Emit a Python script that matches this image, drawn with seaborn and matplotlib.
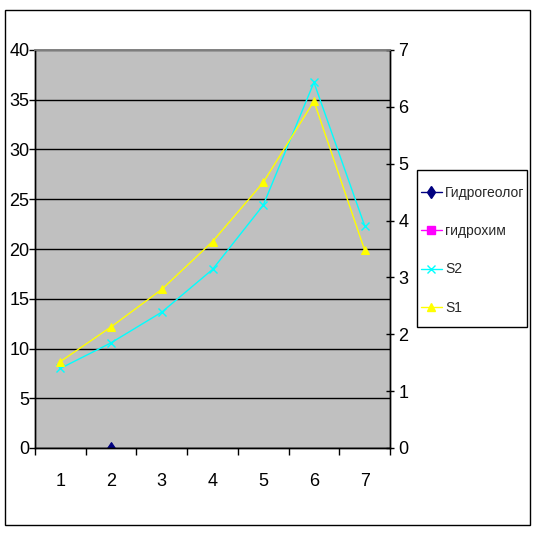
import numpy as np
import pandas as pd
import seaborn as sns
import matplotlib.pyplot as plt
from matplotlib.lines import Line2D
from matplotlib.patches import Rectangle

sns.set_theme(style="white")
plt.rcParams["font.family"] = ["Liberation Sans", "DejaVu Sans"]

categories = [1, 2, 3, 4, 5, 6, 7]
hydro = [np.nan, 0, np.nan, np.nan, np.nan, np.nan, np.nan]
s2 = [1.40, 1.85, 2.39, 3.14, 4.27, 6.43, 3.91]
s1 = [1.52, 2.13, 2.79, 3.63, 4.67, 6.10, 3.48]
labels = ["Гидрогеолог", "гидрохим", "S2", "S1"]

df = pd.DataFrame({"cat": categories, "hydro": hydro, "s2": s2, "s1": s1})

fig = plt.figure(figsize=(5.35, 5.34), dpi=100)
ax = fig.add_axes([35 / 535, 86 / 534, 355 / 535, 398 / 534])
ax.set_facecolor("#C0C0C0")

sns.lineplot(data=df, x="cat", y="hydro", ax=ax, color="#000080", marker="d",
             markersize=6, markeredgecolor="#000080", linewidth=1)
ax.set_ylim(0, 40)
ax.set_yticks(range(0, 41, 5))
ax.yaxis.grid(True, color="black", linewidth=1)
ax.set_axisbelow(True)

ax2 = ax.twinx()
sns.lineplot(data=df, x="cat", y="s2", ax=ax2, color="#00FFFF", marker="x",
             markersize=6, markeredgecolor="#00FFFF", markeredgewidth=1, linewidth=1)
sns.lineplot(data=df, x="cat", y="s1", ax=ax2, color="#FFFF00", marker="^",
             markersize=6, markeredgecolor="#FFFF00", linewidth=1)
ax2.set_ylim(0, 7)
ax2.set_yticks(range(0, 8))

ax.set_xlim(0.5, 7.5)
ax.set_xticks(categories)
ax.set_xticks(np.arange(0.5, 7.6, 1), minor=True)
ax.tick_params(axis="x", which="major", length=0, pad=18, labelsize=13, colors="black")
ax.tick_params(axis="x", which="minor", bottom=True, length=5, width=1, color="black")
ax.tick_params(axis="y", left=True, length=4, width=1, pad=0, labelsize=13, colors="black")
ax2.tick_params(axis="y", right=True, direction="inout", length=6, width=1, pad=3,
                labelsize=13, colors="black")

for a in (ax, ax2):
    a.set_xlabel("")
    a.set_ylabel("")
    for side in ("left", "right", "bottom"):
        a.spines[side].set_color("black")
        a.spines[side].set_linewidth(1)
    a.spines["top"].set_color("#808080")

handles = [
    Line2D([], [], color="#000080", marker="d", markersize=6, linewidth=1),
    Line2D([], [], color="#FF00FF", marker="s", markersize=6, linewidth=1),
    Line2D([], [], color="#00FFFF", marker="x", markersize=6, linewidth=1),
    Line2D([], [], color="#FFFF00", marker="^", markersize=6, linewidth=1),
]
leg = fig.legend(handles, labels, loc="upper left",
                 bbox_to_anchor=(418 / 535, 1 - 183 / 534), frameon=False,
                 prop={"size": 10}, handlelength=1.5, handletextpad=0.25,
                 labelspacing=1.75, borderpad=0.2, borderaxespad=0)

# legend box and outer chart frame
fig.patches.append(Rectangle((417 / 535, 1 - 327 / 534), 110 / 535, 157 / 534,
                             transform=fig.transFigure, fill=False,
                             edgecolor="black", linewidth=1))
fig.patches.append(Rectangle((5 / 535, 9 / 534), 525 / 535, 515 / 534,
                             transform=fig.transFigure, fill=False,
                             edgecolor="black", linewidth=1))

fig.savefig("out.png", dpi=100)
